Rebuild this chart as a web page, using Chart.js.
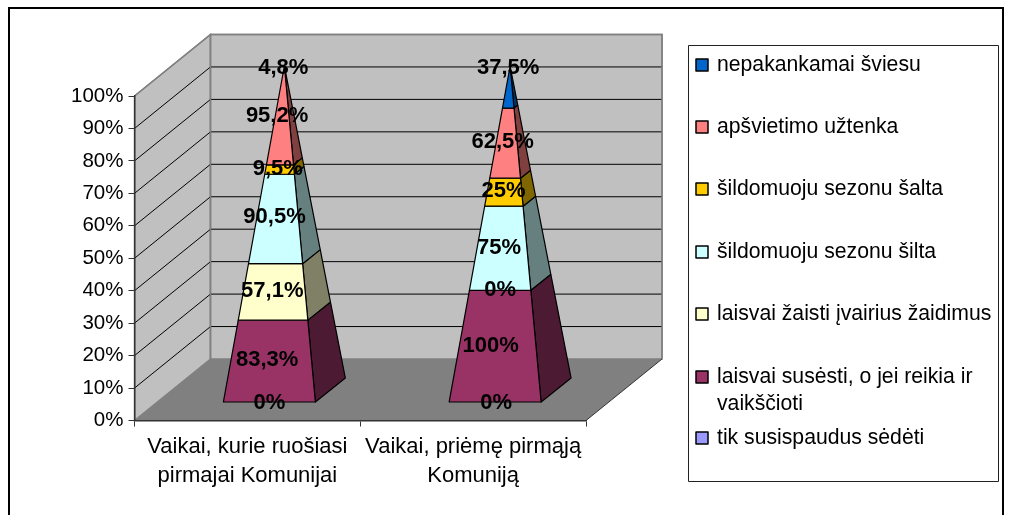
<!DOCTYPE html>
<html><head><meta charset="utf-8">
<style>html,body{margin:0;padding:0;background:#fff;overflow:hidden}canvas{display:block}</style>
<script src="https://cdn.jsdelivr.net/npm/chart.js@4"></script>
</head><body>
<div style="width:1012px;height:515px"><canvas id="c" width="1012" height="515"></canvas></div>
<script>
const categories = [['Vaikai, kurie ruošiasi','pirmajai Komunijai'],['Vaikai, priėmę pirmąją','Komuniją']];
const seriesNames = ['tik susispaudus sėdėti','laisvai susėsti, o jei reikia ir vaikščioti','laisvai žaisti įvairius žaidimus','šildomuoju sezonu šilta','šildomuoju sezonu šalta','apšvietimo užtenka','nepakankamai šviesu'];
const tikSusispaudus = [0,0];
const laisvaiSusesti = [83.3,100];
const laisvaiZaisti = [57.1,0];
const sezonuSilta = [90.5,75];
const sezonuSalta = [9.5,25];
const apsvietimoUztenka = [95.2,62.5];
const nepakankamaiSviesu = [4.8,37.5];
const seriesValues = [tikSusispaudus,laisvaiSusesti,laisvaiZaisti,sezonuSilta,sezonuSalta,apsvietimoUztenka,nepakankamaiSviesu];
const seriesColors = ['#9999FF','#993366','#FFFFCC','#CCFFFF','#FFCC00','#FF8080','#0066CC'];
const sideColors = ['#4d4d80','#4d1a33','#808066','#668080','#806600','#804040','#003366'];
// small offsets of the value labels from the face centre: [series][category] = [dx, dy]
const labelNudge = [
  [[0,0],[1,0]],
  [[-4,-1],[-7,0]],
  [[-2,-1],[0,0]],
  [[-3,-2],[-3,0]],
  [[-2,-1],[-1,-1]],
  [[-5,-2],[-4,-1]],
  [[-1,0],[-1,-19]]
];
const FONT = '"Liberation Sans", Arial, sans-serif';
const DX = 76, DY = -61.5;          // depth of the floor
const PX = 37, PY = -30;            // centre of a pyramid relative to the front plane
const PDX = 15, PDY = 12;           // half depth of a pyramid base

const totals = categories.map((_,j)=>seriesValues.reduce((a,s)=>a+s[j],0));
const fmt = v => String(v).replace('.',',')+'%';

const legendRows = [...seriesNames.keys()].reverse();
const legendLines = {1:['laisvai susėsti, o jei reikia ir','vaikščioti']};
const legendY = [65,127,189,252,314,377,438];

const scene = {
  id:'scene',
  beforeDraw(chart){
    const {ctx,scales:{x,y}} = chart;
    const l=x.left,r=x.right,b=y.getPixelForValue(0),t=y.getPixelForValue(100);
    ctx.save();
    ctx.fillStyle='#fff';ctx.fillRect(0,0,chart.width,chart.height);
    ctx.strokeStyle='#000';ctx.lineWidth=2;ctx.strokeRect(9,8,994,520);
    // walls
    ctx.fillStyle='#C0C0C0';ctx.strokeStyle='#808080';ctx.lineWidth=1.5;
    ctx.beginPath();ctx.moveTo(l,b);ctx.lineTo(l,t);ctx.lineTo(l+DX,t+DY);ctx.lineTo(l+DX,b+DY);ctx.closePath();ctx.fill();ctx.stroke();
    ctx.beginPath();ctx.rect(l+DX,t+DY,r-l,b-t);ctx.fill();ctx.stroke();
    // floor
    ctx.fillStyle='#808080';
    ctx.beginPath();ctx.moveTo(l,b);ctx.lineTo(r,b);ctx.lineTo(r+DX,b+DY);ctx.lineTo(l+DX,b+DY);ctx.closePath();ctx.fill();
    // grid
    ctx.strokeStyle='#000';ctx.lineWidth=1;
    y.ticks.forEach(tk=>{
      if(tk.value===0||tk.value===100)return;
      const p=y.getPixelForValue(tk.value);
      ctx.beginPath();ctx.moveTo(l,p);ctx.lineTo(l+DX,p+DY);ctx.lineTo(r+DX,p+DY);
      ctx.stroke();
    });
    ctx.strokeStyle='#808080';ctx.lineWidth=1.5;
    ctx.beginPath();ctx.moveTo(l,t);ctx.lineTo(l+DX,t+DY);ctx.lineTo(r+DX,t+DY);ctx.lineTo(r+DX,b+DY);ctx.stroke();
    ctx.beginPath();ctx.moveTo(l+DX,t+DY);ctx.lineTo(l+DX,b+DY);ctx.stroke();
    ctx.strokeStyle='#333';ctx.lineWidth=1;
    ctx.beginPath();ctx.moveTo(r,b);ctx.lineTo(r+DX,b+DY);ctx.stroke();
    ctx.restore();
  },
  afterDatasetsDraw(chart){
    const {ctx,scales:{y}} = chart;
    const y0=y.getPixelForValue(0),y1=y.getPixelForValue(100),span=y0-y1;
    ctx.save();ctx.lineJoin='round';
    const quad=(pts,fill)=>{ctx.beginPath();pts.forEach((p,i)=>i?ctx.lineTo(p[0],p[1]):ctx.moveTo(p[0],p[1]));ctx.closePath();ctx.fillStyle=fill;ctx.fill();ctx.strokeStyle='#000';ctx.lineWidth=1.2;ctx.stroke();};
    const corners=(el,py)=>{
      const f=(y0-py)/span,s=1-f,cx=el.x+PX,cy=py+PY,hw=el.width/2;
      return {fl:[cx+s*(-hw-PDX),cy+s*PDY],fr:[cx+s*(hw-PDX),cy+s*PDY],br:[cx+s*(hw+PDX),cy-s*PDY],s,cx,cy};
    };
    seriesValues.forEach((vals,i)=>{
      chart.getDatasetMeta(i).data.forEach((el,j)=>{
        if(vals[j]===0)return;
        const a=corners(el,el.base),b=corners(el,el.y);
        quad([a.fr,a.br,b.br,b.fr],sideColors[i]);
        quad([a.fl,a.fr,b.fr,b.fl],seriesColors[i]);
      });
    });
    ctx.fillStyle='#000';ctx.font='bold 22px '+FONT;ctx.textAlign='center';ctx.textBaseline='middle';
    seriesValues.forEach((vals,i)=>{
      chart.getDatasetMeta(i).data.forEach((el,j)=>{
        const m=corners(el,(el.base+el.y)/2),n=labelNudge[i][j];
        ctx.fillText(fmt(vals[j]),(m.fl[0]+m.fr[0])/2+n[0],m.fl[1]+n[1]);
      });
    });
    // legend
    ctx.fillStyle='#fff';ctx.strokeStyle='#222';ctx.lineWidth=1;
    ctx.fillRect(688.5,45.5,310,436);ctx.strokeRect(688.5,45.5,310,436);
    ctx.font='21.2px '+FONT;ctx.textAlign='left';ctx.textBaseline='middle';
    legendRows.forEach((i,row)=>{
      const yy=legendY[row];
      ctx.fillStyle=seriesColors[i];ctx.fillRect(696,yy-6,12,12);
      ctx.strokeStyle='#000';ctx.lineWidth=1.5;ctx.strokeRect(696,yy-6,12,12);
      ctx.fillStyle='#000';
      (legendLines[i]||[seriesNames[i]]).forEach((ln,k)=>ctx.fillText(ln,717,yy+k*27));
    });
    ctx.restore();
  }
};

new Chart(document.getElementById('c'),{
  type:'bar',
  data:{labels:categories,datasets:seriesValues.map((vals,i)=>({
    label:seriesNames[i],
    data:vals.map((v,j)=>v/totals[j]*100),
    backgroundColor:'rgba(0,0,0,0)',borderWidth:0,
    barPercentage:0.408,categoryPercentage:1
  }))},
  options:{
    responsive:false,animation:false,
    layout:{padding:{left:0,top:96,right:426,bottom:0}},
    plugins:{legend:{display:false},tooltip:{enabled:false}},
    scales:{
      x:{stacked:true,afterFit(s){s.height=94.5;},
        grid:{display:true,drawOnChartArea:false,tickLength:6,color:'#333'},
        border:{color:'#333',width:1.5},
        ticks:{color:'#000',font:{family:FONT,size:22,lineHeight:1.32},maxRotation:0,autoSkip:false,padding:6}},
      y:{stacked:true,min:0,max:100,afterFit(s){s.width=134.5;},
        grid:{display:true,drawOnChartArea:false,tickLength:6,color:'#333'},
        border:{color:'#333',width:1.5},
        ticks:{stepSize:10,color:'#000',font:{family:FONT,size:20.5},padding:5,callback:v=>v+'%'}}
    }
  },
  plugins:[scene]
});
</script>
</body></html>
